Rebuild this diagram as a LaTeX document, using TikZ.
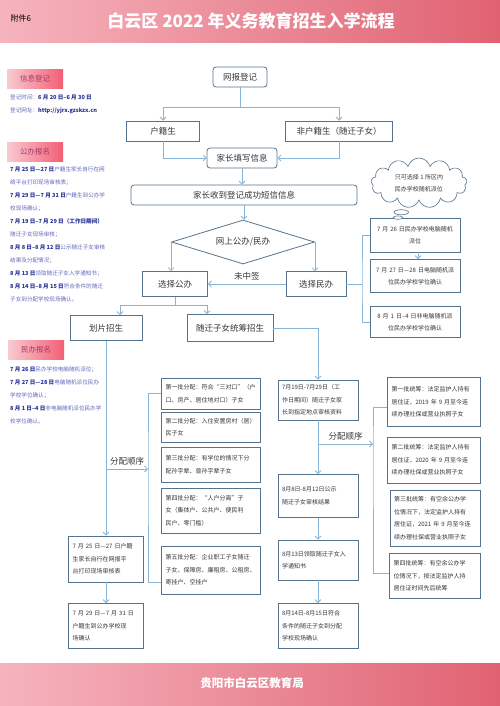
\documentclass[tikz,border=0pt]{standalone}
\usepackage{fontspec}
\setmainfont{Noto Sans CJK SC}
\usepackage{xcolor}
\definecolor{boxline}{RGB}{85,115,140}
\definecolor{linkblue}{RGB}{135,180,215}
\definecolor{boxtext}{RGB}{55,55,55}
\definecolor{sidedark}{RGB}{40,50,150}
\definecolor{sidelight}{RGB}{100,105,190}
\definecolor{tagrose}{RGB}{165,55,105}
\definecolor{bandlight}{RGB}{246,180,190}
\definecolor{banddark}{RGB}{224,98,114}
\definecolor{tagred}{RGB}{242,95,115}
\usetikzlibrary{shapes.geometric, shapes.symbols, shapes.callouts, arrows.meta, positioning, calc}
\newcommand{\setfs}[2]{\fontsize{#1}{#2}\selectfont}
\newcommand{\sdate}[1]{\textbf{\textcolor{sidedark}{#1}}}
\tikzset{
  flowbox/.style={
    rectangle, draw=boxline, line width=0.8pt, fill=white,
    text=boxtext, font=\setfs{8.5}{10}, align=center, inner sep=2pt
  },
  roundbox/.style={flowbox, rounded corners=3pt},
  notebox/.style={
    rectangle, draw=boxline, line width=0.8pt, fill=white,
    text=boxtext, font=\setfs{6}{12.5}, text width=#1, align=left,
    inner xsep=4pt, inner ysep=2pt
  },
  tagbox/.style={
    minimum width=56pt, minimum height=19pt, left color=bandlight!70,
    right color=tagred, text=tagrose, font=\setfs{7.5}{9}
  },
  sidetext/.style={align=left, text=sidelight, font=\setfs{5.6}{13}, inner sep=0pt},
  arrow/.style={draw=linkblue, line width=0.8pt, -{Straight Barb[length=3pt,width=6pt]}},
  link/.style={draw=linkblue, line width=0.8pt},
}

\begin{document}
\begin{tikzpicture}[x=1pt, y=-1pt]
  \useasboundingbox (0,0) rectangle (500,706);
  \fill[white] (0,0) rectangle (500,706);

  % --- bandas de cabecera y pie ---
  \shade[left color=bandlight, right color=banddark] (0,0) rectangle (500,43);
  \shade[left color=bandlight, right color=banddark] (0,663) rectangle (500,706);
  \node (annex) [anchor=west, font=\setfs{8}{9}] at (7,18) {附件6};
  \node (title) [text=white, font=\setfs{17}{19}\bfseries] at (251,21) {白云区 2022 年义务教育招生入学流程};
  \node (bureau) [text=white, font=\setfs{11.5}{13}\bfseries] at (252,683) {贵阳市白云区教育局};

  % --- columna lateral ---
  \node (infotag) [tagbox] at (35,79) {信息登记};
  \node (infotxt) [sidetext, anchor=north west] at (10,95)
        {登记时间：\sdate{6 月 20 日–6 月 30 日}\\
         登记网址：\sdate{http://yjrx.gzskzx.cn}};
  \node (pubtag) [tagbox] at (35,152) {公办报名};
  \node (pubtxt) [sidetext, anchor=north west] at (10,167)
        {\sdate{7 月 25 日—27 日}户籍生家长自行在网\\
         络平台打印现场审核表；\\
         \sdate{7 月 29 日—7 月 31 日}户籍生到公办学\\
         校现场确认；\\
         \sdate{7 月 19 日–7 月 29 日（工作日期间）}\\
         随迁子女现场审核；\\
         \sdate{8 月 8 日–8 月 12 日}公示随迁子女审核\\
         结果及分配情况；\\
         \sdate{8 月 13 日}领取随迁子女入学通知书；\\
         \sdate{8 月 14 日–8 月 15 日}符合条件的随迁\\
         子女到分配学校现场确认。};
  \node (pritag) [tagbox] at (36,350) {民办报名};
  \node (pritxt) [sidetext, anchor=north west] at (10,367)
        {\sdate{7 月 26 日}民办学校电脑随机派位；\\
         \sdate{7 月 27 日—28 日}电脑随机派位民办\\
         学校学位确认；\\
         \sdate{8 月 1 日–4 日}非电脑随机派位民办学\\
         校学位确认。};

  % --- parte superior del flujo ---
  \node (wbdj) [roundbox, minimum width=54pt, minimum height=20pt] at (240,77) {网报登记};
  \node (hjs) [flowbox, minimum width=73pt, minimum height=20pt] at (163,131) {户籍生};
  \node (fhjs) [flowbox, minimum width=107pt, minimum height=20pt] at (339,131) {非户籍生（随迁子女）};
  \node (jtxx) [roundbox, minimum width=70pt, minimum height=20pt] at (242,158) {家长填写信息};
  \node (dxxx) [roundbox, minimum width=226pt, minimum height=20pt] at (244,195) {家长收到登记成功短信信息};
  \node (wsgb) [diamond, draw=boxline, line width=0.8pt, fill=white, text=boxtext,
        font=\setfs{8.5}{10}, aspect=3.25, minimum width=143pt, minimum height=44pt,
        inner sep=0pt] at (243,242) {网上公办/民办};
  \node (xzgb) [flowbox, minimum width=65pt, minimum height=25pt] at (175,284) {选择公办};
  \node (xzmb) [flowbox, minimum width=60pt, minimum height=25pt] at (316,284) {选择民办};

  % ---民办 ---
  \node (mb1) [notebox=82pt, align=center, minimum height=34pt] at (415,235)
        {7 月 26 日民办学校电脑随机\\派位};
  \node (mb2) [notebox=82pt, align=center, minimum height=33pt] at (415,276)
        {7 月 27 日—28 日电脑随机派\\位民办学校学位确认};
  \node (mb3) [notebox=82pt, align=center, minimum height=31pt] at (415,322)
        {8 月 1 日–4 日非电脑随机派\\位民办学校学位确认};
  \node (onlyone) [cloud callout, cloud puffs=13, aspect=2.2, draw=boxline, line width=0.6pt,
        fill=white, text=boxtext, font=\setfs{6}{12}, align=left,
        minimum width=96pt, minimum height=50pt,
        callout absolute pointer={([xshift=-17pt]mb1.north)}] at (419,183)
        {只可选择 1 所区内\\民办学校随机派位};

  % --- 公办 ---
  \node (hpzs) [flowbox, minimum width=72pt, minimum height=25pt] at (106,328) {划片招生};
  \node (sqzs) [flowbox, minimum width=86pt, minimum height=27pt] at (230,328) {随迁子女统筹招生};

  \node (gp1) [notebox=91pt, minimum height=31pt] at (211,393.5)
        {第一批分配：符合“三对口”（户\\口、房产、居住地对口）子女};
  \node (gp2) [notebox=91pt, minimum height=30pt] at (211,427)
        {第二批分配：入住安置房村（居）\\民子女};
  \node (gp3) [notebox=91pt, minimum height=35pt] at (211,464.5)
        {第三批分配：有学位的情况下分\\配孙字辈、曾孙字辈子女};
  \node (gp4) [notebox=91pt, minimum height=45pt] at (211,510.5)
        {第四批分配：“人户分离”子\\女（集体户、公共户、便民利\\民户、零门槛）};
  \node (gp5) [notebox=91pt, minimum height=48pt] at (211,570)
        {第五批分配：企业职工子女随迁\\子女、保障房、廉租房、公租房、\\寄挂户、空挂户};

  \node (hj1) [notebox=67pt, minimum height=46pt] at (106,559)
        {7 月 25 日—27 日户籍\\生家长自行在网报平\\台打印现场审核表};
  \node (hj2) [notebox=67pt, minimum height=45pt] at (106,626)
        {7 月 29 日—7 月 31 日\\户籍生到公办学校现\\场确认};

  \node (sA) [notebox=72pt, minimum height=40pt] at (318,400)
        {7月19日-7月29日（工\\作日期间）随迁子女家\\长到指定地点审核资料};
  \node (sB) [notebox=72pt, minimum height=43pt] at (318,496)
        {8月8日-8月12日公示\\随迁子女审核结果};
  \node (sC) [notebox=72pt, minimum height=40pt] at (318,560)
        {8月13日领取随迁子女入\\学通知书};
  \node (sD) [notebox=72pt, minimum height=45pt] at (318,626)
        {8月14日-8月15日符合\\条件的随迁子女到分配\\学校现场确认};

  \node (tc1) [notebox=85pt, minimum height=49pt] at (434,402)
        {第一批统筹：法定监护人持有\\居住证，2019 年 9 月至今连\\续办理社保或营业执照子女};
  \node (tc2) [notebox=85pt, minimum height=46pt] at (434,460)
        {第二批统筹：法定监护人持有\\居住证，2020 年 9 月至今连\\续办理社保或营业执照子女};
  \node (tc3) [notebox=82pt, minimum height=56pt] at (435,518)
        {第三批统筹：有空余公办学\\位情况下，法定监护人持有\\居住证，2021 年 9 月至今连\\续办理社保或营业执照子女};
  \node (tc4) [notebox=83pt, minimum height=45pt] at (435,576)
        {第四批统筹：有空余公办学\\位情况下，按法定监护人持\\居住证时间先后统筹};

  % --- conectores ---
  \coordinate (split) at (240,107);
  \draw[link] (wbdj.south) -- (split);
  \draw[arrow] (split) -| (hjs.north);
  \draw[arrow] (split) -| (fhjs.north);
  \draw[arrow] (hjs.south) |- (jtxx.west);
  \draw[arrow] (fhjs.south) |- (jtxx.east);
  \draw[arrow] (jtxx.south) -- (jtxx.south |- dxxx.north);
  \draw[arrow] (dxxx.south) -- (dxxx.south |- wsgb.north);
  \draw[arrow] (wsgb.west) -- (wsgb.west |- xzgb.north);
  \draw[arrow] (wsgb.east) -- (wsgb.east |- xzmb.north);
  \draw[arrow] (xzmb.west) -- node[above, text=boxtext, font=\setfs{8.5}{10}] {未中签} (xzgb.east);

  \coordinate (mbbar) at (362,284);
  \draw[link] (xzmb.east) -- (mbbar);
  \draw[link] (mb1.west) -| (mbbar) |- (mb3.west);
  \draw[arrow] ([xshift=3pt]mb1.south) -- ([xshift=3pt]mb2.north);

  \coordinate (gbsplit) at (175,305);
  \draw[link] (xzgb.south) -- (gbsplit);
  \draw[arrow] (gbsplit) -| ([xshift=14pt]hpzs.north);
  \draw[arrow] (gbsplit) -| ([xshift=-23pt]sqzs.north);

  \draw[arrow] (hpzs.south) -- (hpzs.south |- hj1.north);
  \draw[arrow] (hj1.south) -- (hj2.north);
  \coordinate (gpbar) at (148,469);
  \draw[arrow] (hpzs.south |- gpbar) -- node[above, text=boxtext, font=\setfs{8.5}{10}] {分配顺序} (gpbar);
  \draw[link] (gp1.west) -| (gpbar) |- ([yshift=-12pt]gp5.west);

  \draw[arrow] (sqzs.east) -| (sA.north);
  \draw[arrow] (sA.south) -- (sB.north);
  \draw[arrow] (sB.south) -- (sC.north);
  \draw[arrow] (sC.south) -- (sD.north);
  \coordinate (tcbar) at (373,444);
  \draw[arrow] (sA.south |- tcbar) -- node[above, text=boxtext, font=\setfs{8.5}{10}] {分配顺序} (tcbar);
  \draw[link] ([yshift=-5pt]tc1.west) -| (tcbar) |- ([yshift=3pt]tc4.west);
\end{tikzpicture}
\end{document}
